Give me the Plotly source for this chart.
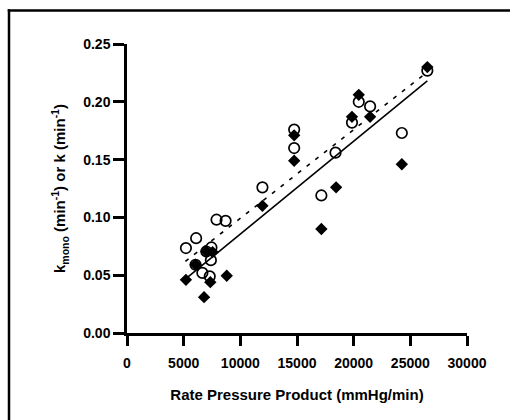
import plotly.graph_objects as go

# Open circles: k (min^-1)
open_x = [5200, 6100, 7900, 8700, 7450, 7400, 6650, 7300, 11950, 14750, 14750,
          17150, 18400, 19850, 20450, 21450, 24250, 26500, 6050, 7000]
open_y = [0.0735, 0.082, 0.098, 0.097, 0.074, 0.063, 0.052, 0.049, 0.126, 0.176,
          0.160, 0.119, 0.156, 0.182, 0.200, 0.196, 0.173, 0.227, 0.059, 0.0705]

# Filled diamonds: k_mono (min^-1)
dia_x = [5200, 6050, 7000, 7550, 7350, 6800, 8800, 11950, 14750, 14750, 17150,
         18450, 19850, 20450, 21450, 24250, 26500]
dia_y = [0.046, 0.059, 0.0705, 0.070, 0.044, 0.031, 0.0495, 0.110, 0.171, 0.149,
         0.090, 0.126, 0.187, 0.206, 0.187, 0.146, 0.230]

# Regression lines (endpoints)
solid_x = [5200, 26500]
solid_y = [0.047, 0.218]
dashed_x = [5150, 26200]
dashed_y = [0.062, 0.2235]

x_ticks = [0, 5000, 10000, 15000, 20000, 25000, 30000]
y_ticks = [0.00, 0.05, 0.10, 0.15, 0.20, 0.25]
y_tick_labels = ["0.00", "0.05", "0.10", "0.15", "0.20", "0.25"]

FONT = "Liberation Sans, Arial, sans-serif"

fig = go.Figure()
fig.add_trace(go.Scatter(x=solid_x, y=solid_y, mode="lines",
                         line=dict(color="black", width=1.6), showlegend=False))
fig.add_trace(go.Scatter(x=dashed_x, y=dashed_y, mode="lines",
                         line=dict(color="black", width=1.6, dash="4px,7px"),
                         showlegend=False))
fig.add_trace(go.Scatter(x=dia_x, y=dia_y, mode="markers",
                         marker=dict(symbol="diamond", size=9.5, color="black",
                                     line=dict(width=0)),
                         showlegend=False))
fig.add_trace(go.Scatter(x=open_x, y=open_y, mode="markers",
                         marker=dict(symbol="circle-open", size=10.5, color="black",
                                     line=dict(width=1.7, color="black")),
                         showlegend=False))

L, R, T, B = 127, 44, 44, 87
W, H = 511, 420
pw, ph = W - L - R, H - T - B

def px(xp):
    return (xp - L) / pw

def py(yp):
    return (H - B - yp) / ph

tick_font = dict(family=FONT, size=14, color="black", weight="bold")
title_font = dict(family=FONT, size=15, color="black", weight="bold")

fig.update_layout(
    width=W, height=H,
    margin=dict(l=L, r=R, t=T, b=B),
    paper_bgcolor="white", plot_bgcolor="white",
    font=dict(family=FONT, color="black", size=12),
    shapes=[
        dict(type="line", xref="paper", yref="paper",
             x0=px(7.75), x1=px(510), y0=py(10.5), y1=py(10.5),
             line=dict(color="black", width=2.5)),
        dict(type="line", xref="paper", yref="paper",
             x0=px(9), x1=px(9), y0=py(9.25), y1=py(420),
             line=dict(color="black", width=2.5)),
    ],
)
fig.update_xaxes(
    range=[0, 30000], tickvals=x_ticks, ticktext=[str(v) for v in x_ticks],
    showgrid=False, zeroline=False, showline=True, linecolor="black", linewidth=2.5,
    ticks="outside", ticklen=10, tickwidth=2.5, tickcolor="black",
    tickfont=tick_font,
    ticklabelstandoff=5,
    title=dict(text="Rate Pressure Product (mmHg/min)", standoff=20,
               font=title_font),
)
fig.update_yaxes(
    range=[0, 0.25], tickvals=y_ticks, ticktext=y_tick_labels,
    showgrid=False, zeroline=False, showline=True, linecolor="black", linewidth=2.5,
    ticks="outside", ticklen=11, tickwidth=2.5, tickcolor="black",
    tickfont=tick_font,
    ticklabelstandoff=0,
    title=dict(text="k<sub>mono</sub> (min<sup>-1</sup>) or k (min<sup>-1</sup>)",
               standoff=14, font=dict(family=FONT, size=15, color="black", weight="bold")),
)

fig.write_html(
    "out.html", config={"displayModeBar": False},
    post_script=("document.documentElement.style.margin='0';"
                 "document.documentElement.style.overflow='hidden';"
                 "document.body.style.margin='0';"
                 "document.body.style.overflow='hidden';"))
